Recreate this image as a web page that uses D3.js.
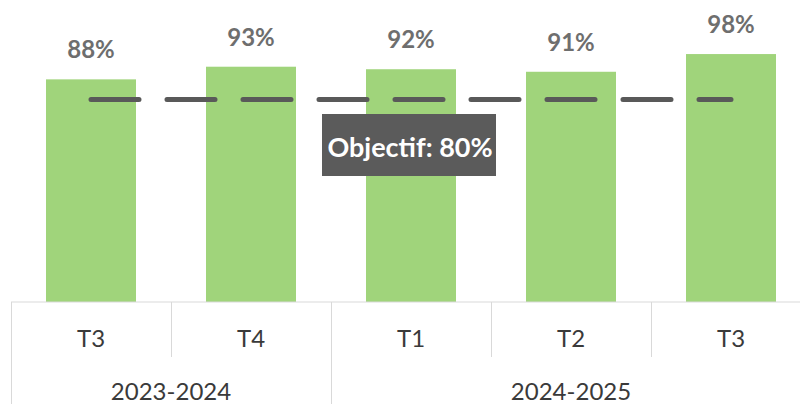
<!DOCTYPE html>
<html>
<head>
<meta charset="utf-8">
<script src="https://cdn.jsdelivr.net/npm/d3@7"></script>
<style>
  html, body { margin: 0; padding: 0; background: #fff; }
  svg { display: block; }
  text { font-family: Lato, "Open Sans", sans-serif; }
</style>
</head>
<body>
<div id="chart"></div>
<script>
// Data
const quarters = ["T3", "T4", "T1", "T2", "T3"];
const years = ["2023-2024", "2024-2025"];
const quartersPerYear = [2, 3];
const scores = [0.88, 0.93, 0.92, 0.91, 0.98];
const target = 0.80;
const targetLabel = "Objectif: 80%";

const W = 800, H = 404;
const baseY = 302;

const svg = d3.select("#chart").append("svg")
    .attr("width", W)
    .attr("height", H);

// Scales (plot area runs a bit past the right edge)
const x = d3.scaleBand()
    .domain(d3.range(quarters.length))
    .range([11, 811])
    .paddingInner(0.4375)
    .paddingOuter(0.21875);

const y = d3.scaleLinear()
    .domain([0, 1])
    .range([baseY, 49]);

const step = x.step();
const bandStart = i => x(i) - x.paddingOuter() * step;

// Bars
svg.selectAll(".bar")
    .data(scores)
    .enter()
    .append("rect")
    .attr("class", "bar")
    .attr("x", (d, i) => x(i))
    .attr("y", d => y(d))
    .attr("width", x.bandwidth())
    .attr("height", d => baseY - y(d))
    .attr("fill", "#a0d47b");

// Value labels
svg.selectAll(".val")
    .data(scores)
    .enter()
    .append("text")
    .attr("class", "val")
    .attr("x", (d, i) => x(i) + x.bandwidth() / 2)
    .attr("y", d => y(d) - 21)
    .attr("text-anchor", "middle")
    .attr("font-size", 24)
    .attr("font-weight", "bold")
    .attr("fill", "#6e6e6e")
    .text(d => d3.format(".0%")(d));

// Target dashed line
const firstC = x(0) + x.bandwidth() / 2;
const lastC = x(quarters.length - 1) + x.bandwidth() / 2;
svg.append("line")
    .attr("x1", firstC)
    .attr("x2", lastC)
    .attr("y1", y(target))
    .attr("y2", y(target))
    .attr("stroke", "#595959")
    .attr("stroke-width", 5)
    .attr("stroke-linecap", "round")
    .attr("stroke-dasharray", "48 28");

// Target label box
const boxG = svg.append("g");
boxG.append("rect")
    .attr("x", 322).attr("y", 114)
    .attr("width", 174).attr("height", 62)
    .attr("fill", "#5b5b5b");
boxG.append("text")
    .attr("x", 410)
    .attr("y", 157)
    .attr("text-anchor", "middle")
    .attr("font-size", 27)
    .attr("font-weight", "bold")
    .attr("fill", "#fff")
    .text(targetLabel);

// Category axis
const axisColor = "#d9d9d9";
const axisG = svg.append("g");
axisG.append("line")
    .attr("x1", 11).attr("x2", 811)
    .attr("y1", baseY).attr("y2", baseY)
    .attr("stroke", axisColor);

// Quarter labels
axisG.selectAll(".q")
    .data(quarters)
    .enter()
    .append("text")
    .attr("class", "q")
    .attr("x", (d, i) => x(i) + x.bandwidth() / 2)
    .attr("y", 347)
    .attr("text-anchor", "middle")
    .attr("font-size", 24)
    .attr("fill", "#3a3a3a")
    .text(d => d);

// Dividers: short between quarters, long between years
const yearStarts = [];
let acc = 0;
quartersPerYear.forEach(n => { yearStarts.push(acc); acc += n; });

d3.range(quarters.length + 1).forEach(i => {
    const isYear = yearStarts.includes(i) || i === quarters.length;
    const xx = Math.round(bandStart(i < quarters.length ? i : quarters.length - 1) + (i < quarters.length ? 0 : step)) + 0.5;
    axisG.append("line")
        .attr("x1", xx).attr("x2", xx)
        .attr("y1", baseY)
        .attr("y2", isYear ? H : 357)
        .attr("stroke", axisColor);
});

// Year labels
axisG.selectAll(".yr")
    .data(years)
    .enter()
    .append("text")
    .attr("class", "yr")
    .attr("x", (d, i) => {
        const s = bandStart(yearStarts[i]);
        return s + quartersPerYear[i] * step / 2;
    })
    .attr("y", 400)
    .attr("text-anchor", "middle")
    .attr("font-size", 24)
    .attr("fill", "#3a3a3a")
    .text(d => d);
</script>
</body>
</html>
